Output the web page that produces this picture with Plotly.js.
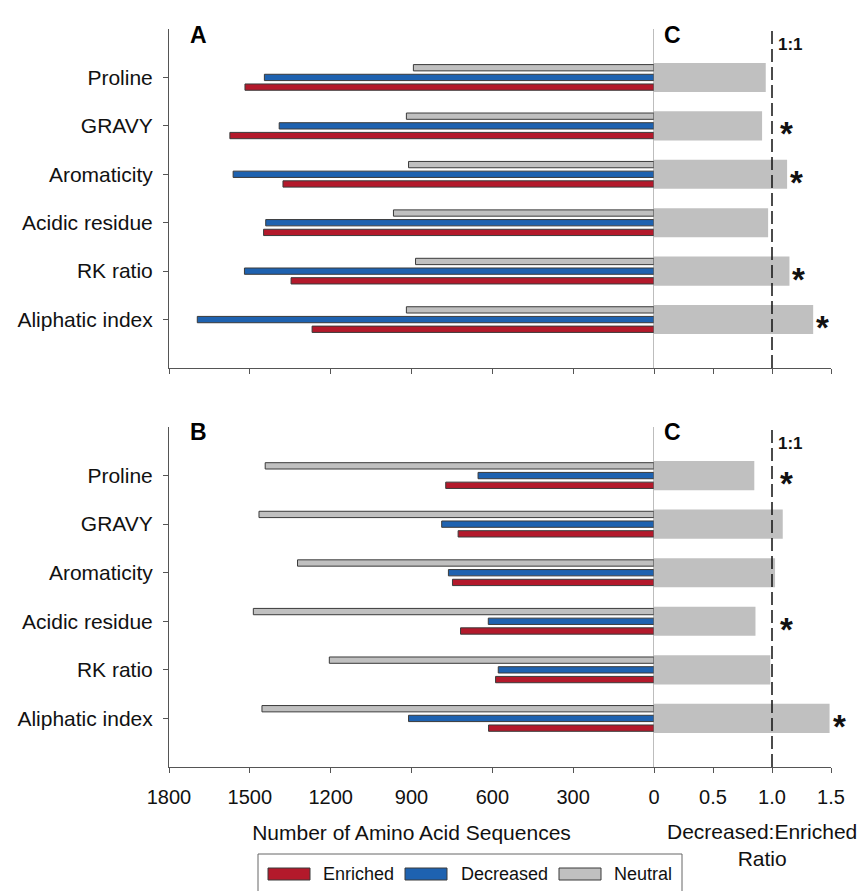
<!DOCTYPE html>
<html>
<head>
<meta charset="utf-8">
<script src="https://cdn.plot.ly/plotly-3.0.1.min.js"></script>
<style>html,body{margin:0;padding:0;background:#fff;}#chart{width:860px;height:891px;}</style>
</head>
<body>
<div id="chart"></div>
<script>
// ---- data ----
const categories = ['Proline', 'GRAVY', 'Aromaticity', 'Acidic residue', 'RK ratio', 'Aliphatic index'];

// Panel A
const enrichedA  = [1518, 1574, 1377, 1449, 1347, 1269];
const decreasedA = [1446, 1391, 1562, 1441, 1520, 1695];
const neutralA   = [893, 919, 911, 967, 885, 919];
const ratioA     = [0.947, 0.916, 1.128, 0.967, 1.148, 1.349];
const sigA       = [false, true, true, false, true, true];

// Panel B
const enrichedB  = [773, 727, 748, 718, 588, 614];
const decreasedB = [653, 788, 763, 615, 578, 911];
const neutralB   = [1443, 1466, 1323, 1487, 1205, 1455];
const ratioB     = [0.850, 1.091, 1.026, 0.860, 0.986, 1.488];
const sigB       = [true, false, false, true, false, true];

const countTicks = [0, 300, 600, 900, 1200, 1500, 1800];
const ratioTicks = [0.5, 1.0, 1.5];
const ratioTickText = ['0.5', '1.0', '1.5'];
const seriesNames = ['Enriched', 'Decreased', 'Neutral'];

// ---- styles ----
const W = 860, H = 891;
const px = x => x / W;
const py = y => 1 - y / H;
const FONT = 'Liberation Sans, Arial, Helvetica, sans-serif';
const RED = '#B3192B', BLUE = '#1E62B0', GRAY = '#C0C0C0', OUT = '#3a3a3a';
const AX = '#555555';
const colors = {Enriched: RED, Decreased: BLUE, Neutral: GRAY};

function barTrace(name, vals, xa, ya) {
  return {
    type: 'bar', orientation: 'h', name: name, y: categories, x: vals,
    xaxis: xa, yaxis: ya, showlegend: false, hoverinfo: 'skip',
    marker: {color: colors[name], line: {color: OUT, width: 1}}
  };
}
function ratioTrace(vals, xa, ya) {
  return {
    type: 'bar', orientation: 'h', name: 'Decreased:Enriched Ratio', y: categories, x: vals,
    xaxis: xa, yaxis: ya, width: 0.6, showlegend: false, hoverinfo: 'skip',
    marker: {color: GRAY, line: {width: 0}}
  };
}

// order: Neutral drawn at top of each group (reversed axis)
const data = [
  barTrace('Neutral', neutralA, 'x', 'y'),
  barTrace('Decreased', decreasedA, 'x', 'y'),
  barTrace('Enriched', enrichedA, 'x', 'y'),
  ratioTrace(ratioA, 'x2', 'y'),
  barTrace('Neutral', neutralB, 'x3', 'y2'),
  barTrace('Decreased', decreasedB, 'x3', 'y2'),
  barTrace('Enriched', enrichedB, 'x3', 'y2'),
  ratioTrace(ratioB, 'x4', 'y2')
];

const baseX = {
  showgrid: false, zeroline: false, showline: true, linecolor: AX, linewidth: 1,
  ticks: 'outside', ticklen: 5, tickcolor: AX, tickwidth: 1, fixedrange: true,
  tickfont: {family: FONT, size: 20, color: '#111'}
};
const leftDom = [px(169), px(654)];
const rightDom = [px(654), px(831)];
const baseY = {
  type: 'category', categoryorder: 'array', categoryarray: categories,
  range: [6, -1], showgrid: false, zeroline: false, showline: true,
  linecolor: AX, linewidth: 1, ticks: 'outside', ticklen: 5, tickcolor: AX,
  tickfont: {family: FONT, size: 21, color: '#111'}, ticklabelstandoff: 6, fixedrange: true
};

const annotations = [];
const shapes = [];

function panelDecor(ratios, sig, xr, yr, topPx) {
  // zero line and 1:1 dashed line
  shapes.push({type: 'line', xref: 'x' + (xr === 'x2' ? '' : '3'), yref: (yr === 'y' ? 'y' : 'y2') + ' domain',
    x0: 0, x1: 0, y0: 0, y1: 1, line: {color: '#7a7a7a', width: 1}});
  shapes.push({type: 'line', xref: xr, yref: (yr === 'y' ? 'y' : 'y2') + ' domain',
    x0: 1, x1: 1, y0: 0, y1: 0.994, line: {color: '#111', width: 1.5, dash: '13px,5px'}});
  annotations.push({xref: xr, yref: 'paper', x: 1, y: py(topPx + 16), xanchor: 'left', yanchor: 'middle',
    xshift: 4, text: '<b>1:1</b>', showarrow: false, font: {family: FONT, size: 17, color: '#111'}});
  ratios.forEach((r, i) => {
    if (!sig[i]) return;
    annotations.push({xref: xr, yref: yr, x: Math.max(r, 1), y: categories[i], xanchor: 'left', yanchor: 'middle',
      xshift: r < 1 ? 6 : 1, yshift: -8, text: '<b>*</b>', showarrow: false,
      font: {family: FONT, size: 33, color: '#111'}});
  });
}
panelDecor(ratioA, sigA, 'x2', 'y', 29);
panelDecor(ratioB, sigB, 'x4', 'y2', 428);

// panel letters
[['A', 198, 35], ['C', 672, 35], ['B', 198, 432], ['C', 672, 432]].forEach(([t, x, y]) => {
  annotations.push({xref: 'paper', yref: 'paper', x: px(x), y: py(y), xanchor: 'center', yanchor: 'middle',
    text: '<b>' + t + '</b>', showarrow: false, font: {family: FONT, size: 23, color: '#000'}});
});

// ratio axis title
annotations.push({xref: 'paper', yref: 'paper', x: px(762), y: py(845), xanchor: 'center', yanchor: 'middle',
  text: 'Decreased:Enriched<br>Ratio', showarrow: false, font: {family: FONT, size: 21, color: '#111'}});

// custom legend
shapes.push({type: 'rect', xref: 'paper', yref: 'paper', x0: px(258), x1: px(682), y0: py(896), y1: py(854),
  line: {color: '#666', width: 1}, fillcolor: 'rgba(0,0,0,0)'});
const legendItems = [[268, 321], [405, 459], [559, 612]];
seriesNames.forEach((n, i) => {
  const [sx, tx] = legendItems[i];
  shapes.push({type: 'rect', xref: 'paper', yref: 'paper', x0: px(sx), x1: px(sx + 42), y0: py(880), y1: py(868),
    line: {color: OUT, width: 1}, fillcolor: colors[n]});
  annotations.push({xref: 'paper', yref: 'paper', x: px(tx), y: py(874), xanchor: 'left', yanchor: 'middle',
    text: n, showarrow: false, font: {family: FONT, size: 18, color: '#111'}});
});

const layout = {
  width: W, height: H, margin: {l: 0, r: 0, t: 0, b: 0},
  paper_bgcolor: '#fff', plot_bgcolor: 'rgba(0,0,0,0)',
  barmode: 'group', bargap: 0.4, bargroupgap: 0.35,
  showlegend: false, font: {family: FONT, color: '#111'},
  xaxis: Object.assign({}, baseX, {domain: leftDom, anchor: 'y', range: [1800, 0], tickvals: countTicks, showticklabels: false}),
  xaxis2: Object.assign({}, baseX, {domain: rightDom, anchor: 'y', range: [0, 1.5], tickvals: [0].concat(ratioTicks), showticklabels: false}),
  xaxis3: Object.assign({}, baseX, {domain: leftDom, anchor: 'y2', range: [1800, 0], tickvals: countTicks,
    ticklabelstandoff: 7,
    title: {text: 'Number of Amino Acid Sequences', font: {family: FONT, size: 21, color: '#111'}, standoff: 18}}),
  xaxis4: Object.assign({}, baseX, {domain: rightDom, anchor: 'y2', range: [0, 1.5], tickvals: ratioTicks, ticktext: ratioTickText,
    ticklabelstandoff: 7}),
  yaxis: Object.assign({}, baseY, {domain: [py(368), py(29)], anchor: 'x'}),
  yaxis2: Object.assign({}, baseY, {domain: [py(767), py(427)], anchor: 'x3'}),
  shapes: shapes, annotations: annotations
};

Plotly.newPlot('chart', data, layout, {displayModeBar: false, staticPlot: true});
</script>
</body>
</html>
